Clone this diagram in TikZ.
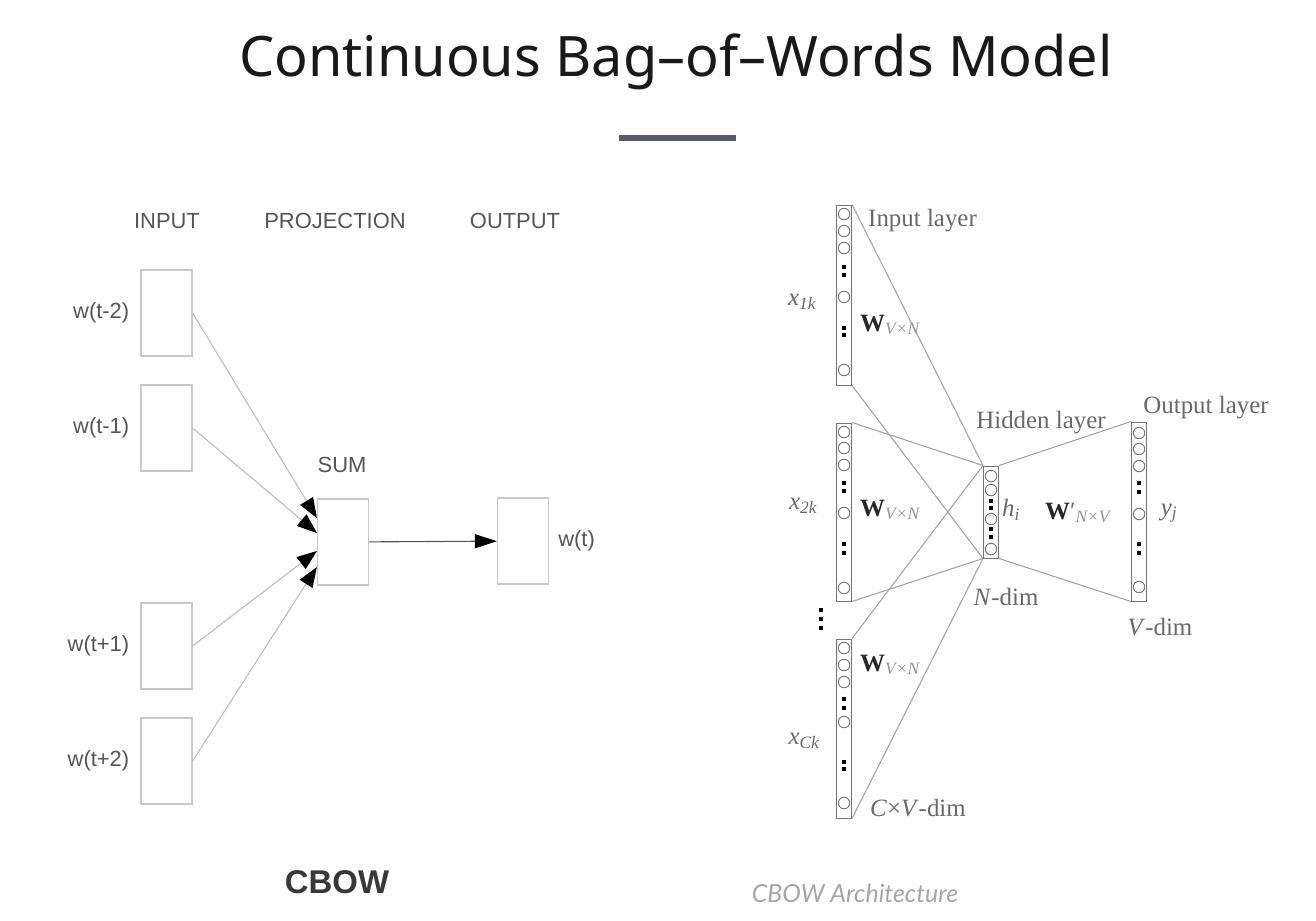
\documentclass[tikz,border=0pt]{standalone}
\usepackage{fontspec}
\setmainfont{Liberation Serif}
\newfontfamily\arialfont{Liberation Sans}
\newfontfamily\headfont{Noto Sans}
\newfontfamily\capfont{Lato}
\usetikzlibrary{arrows.meta}
\usetikzlibrary{positioning}
\usetikzlibrary{calc}
\definecolor{mgray}{RGB}{85,85,85}
\definecolor{lgray}{RGB}{200,200,200}
\definecolor{fgray}{RGB}{190,190,190}
\definecolor{wgray}{RGB}{165,165,165}
\definecolor{cgray}{RGB}{115,115,115}
\definecolor{tgray}{RGB}{105,105,105}
\definecolor{sgray}{RGB}{150,150,150}
\definecolor{mbar}{RGB}{85,90,110}
\tikzset{wbox/.style = {draw=lgray, line width=1.2bp, minimum width=51bp, minimum height=86bp, inner sep=0}}
\tikzset{wlbl/.style = {mgray, inner sep=0, font=\arialfont\fontsize{22}{26}\selectfont}}
\tikzset{feed/.style = {fgray, line width=1.1bp, -{Triangle[length=20bp, width=15bp, color=black]}}}
\tikzset{col/.style = {draw=cgray, line width=1bp, fill=white, minimum width=15bp, inner sep=0}}
\tikzset{neuron/.style = {draw=cgray, line width=0.9bp, circle, inner sep=0, minimum size=11.5bp}}
\tikzset{blob/.style = {fill=black, inner sep=0, minimum size=3.5bp}}
\tikzset{wire/.style = {wgray, line width=1.1bp}}
\tikzset{rlbl/.style = {tgray, inner sep=0, font=\fontsize{25}{28}\selectfont}}
\newcommand{\Wm}[1]{{\color[RGB]{40,40,40}\bfseries W}\textsubscript{\color{sgray}\itshape #1}}

\begin{document}
\begin{tikzpicture}[x=1bp, y=-1bp]
      \fill [white] (0,0) rectangle (1316,920);
      \useasboundingbox (0,0) rectangle (1316,920);

      \node [text=black!90, inner sep=0, font=\headfont\fontsize{56}{60}\selectfont] (title) at (676,62) {Continuous Bag–of–Words Model};
      \fill [mbar] (619,135) rectangle (736,141);

      % CBOW, left
      \node [wlbl] (hin) at (167,221) {INPUT};
      \node [wlbl] (hproj) at (335,221) {PROJECTION};
      \node [wlbl] (hout) at (515,221) {OUTPUT};
      \foreach \n/\y/\t in {1/313/w(t-2), 2/428/w(t-1), 3/646/w(t+1), 4/761/w(t+2)} {
        \node [wbox] (w\n) at (166.5,\y) {};
        \node [wlbl, left = 11bp of w\n] (l\n) {\t};
      }
      \node [wbox] (sum) at (343,542) {};
      \node [wbox] (out) at (523,541) {};
      \node [wlbl] (sumlbl) at (342,465) {SUM};
      \node [wlbl, right = 9bp of out] (wt) {w(t)};
      \foreach \n/\d in {1/-24, 2/-9, 3/9, 4/25} {
        \draw [feed] (w\n.east) -- ($(sum.west) + (0,\d)$);
      }
      \draw [mgray, line width=1.1bp, -{Triangle[length=22bp, width=14bp, color=black]}] (sum) -- (out);
      \node [text=black!78, inner sep=0, font=\arialfont\bfseries\fontsize{33}{36}\selectfont] (cbow) at (337,882) {CBOW};

      % CBOW architecture, right
      \node [col, minimum height=180bp] (x1) at (844,295) {};
      \node [col, minimum height=178bp] (x2) at (844,512) {};
      \node [col, minimum height=179bp] (xc) at (844,728.5) {};
      \node [col, minimum height=92bp] (hid) at (991,512) {};
      \node [col, minimum height=179bp] (yout) at (1139,511.5) {};

      \draw [wire] (x1.north east) -- (hid.north west);
      \draw [wire] (x1.south east) -- (hid.south west);
      \draw [wire] (x2.north east) -- (hid.north west);
      \draw [wire] (x2.south east) -- (hid.south west);
      \draw [wire] (xc.north east) -- (hid.north west);
      \draw [wire] (xc.south east) -- (hid.south west);
      \draw [wire] (hid.north east) -- (yout.north west);
      \draw [wire] (hid.south east) -- (yout.south west);

      \foreach \y in {214,231,248,297,370} \node [neuron] (a\y) at (844,\y) {};
      \foreach \y in {267,275,328,335} \node [blob] (ad\y) at (844,\y) {};
      \foreach \y in {432,448,465,513,588} \node [neuron] (b\y) at (844,\y) {};
      \foreach \y in {483,491,544,553} \node [blob] (bd\y) at (844,\y) {};
      \foreach \y in {648,665,682,722,803} \node [neuron] (c\y) at (844,\y) {};
      \foreach \y in {699,708,762,769} \node [blob] (cd\y) at (844,\y) {};
      \foreach \y in {476,490,519,549} \node [neuron] (h\y) at (991,\y) {};
      \foreach \y in {501,508,529,537} \node [blob] (hd\y) at (991,\y) {};
      \foreach \y in {433,449,466,514,587} \node [neuron] (o\y) at (1139,\y) {};
      \foreach \y in {483,492,544,553} \node [blob] (od\y) at (1139,\y) {};
      \foreach \y in {610,619,628} \node [blob] (vd\y) at (821,\y) {};

      \node [rlbl, anchor=west] (inl) at (868,221) {Input layer};
      \node [rlbl] (hidl) at (1041,423) {Hidden layer};
      \node [rlbl] (outl) at (1206,408) {Output layer};
      \node [rlbl] (ndim) at (1006,597) {\textit{N}-dim};
      \node [rlbl] (vdim) at (1160,627) {\textit{V}-dim};
      \node [rlbl, anchor=west] (cvdim) at (870,808) {\textit{C}×\textit{V}-dim};
      \node [rlbl] (x1l) at (802,302) {\textit{x}\textsubscript{\itshape 1k}};
      \node [rlbl] (x2l) at (803,506) {\textit{x}\textsubscript{\itshape 2k}};
      \node [rlbl] (xcl) at (804,741) {\textit{x}\textsubscript{\itshape Ck}};
      \node [rlbl, anchor=west] (w1l) at (860,325) {\Wm{V×N}};
      \node [rlbl, anchor=west] (w2l) at (860,510) {\Wm{V×N}};
      \node [rlbl, anchor=west] (wcl) at (860,665) {\Wm{V×N}};
      \node [rlbl] (hil) at (1011,510) {\textit{h}\textsubscript{\itshape i}};
      \node [rlbl, anchor=west] (wol) at (1045,513) {{\color[RGB]{40,40,40}\bfseries W}′\textsubscript{\color{sgray}\itshape N×V}};
      \node [rlbl] (yjl) at (1169,513) {\textit{y}\textsubscript{\itshape j}};

      \node [text=black!35, inner sep=0, font=\capfont\itshape\fontsize{25}{28}\selectfont] (arch) at (855,893) {CBOW Architecture};
\end{tikzpicture}
\end{document}
